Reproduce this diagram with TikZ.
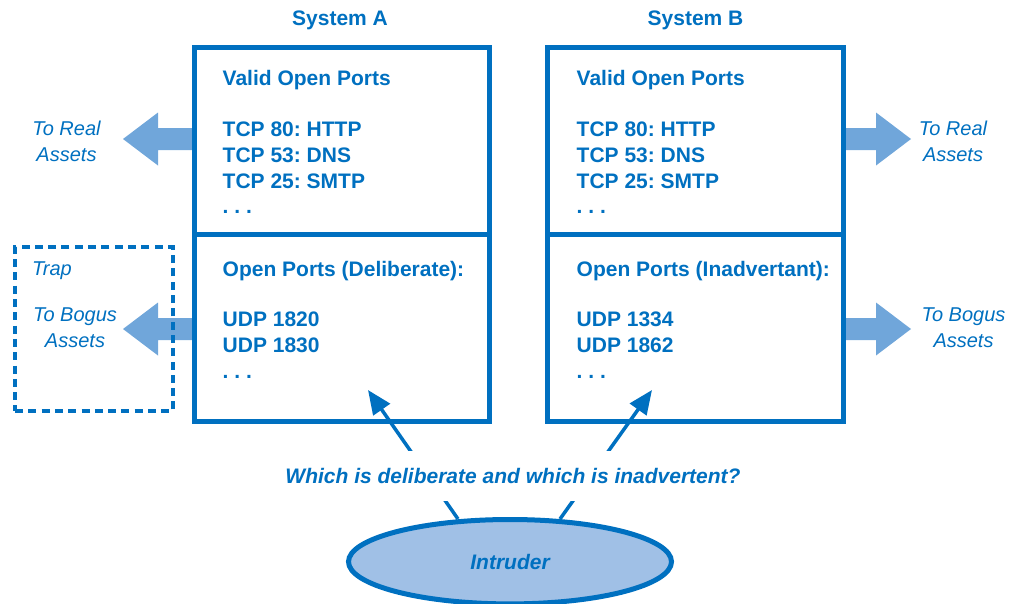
\documentclass[tikz,border=0pt]{standalone}
\usepackage{fontspec}
\setmainfont{Liberation Sans}
\usetikzlibrary{arrows.meta,shapes.geometric}
\definecolor{tblue}{RGB}{0,112,192}
\definecolor{afill}{RGB}{112,166,218}
\definecolor{efill}{RGB}{160,192,230}
\frenchspacing
\begin{document}
\begin{tikzpicture}[x=1pt,y=-1pt,
  boxpart/.style={draw=tblue,line width=5pt,inner sep=0pt},
  lbl/.style={text=tblue,font=\fontsize{21}{26}\selectfont\bfseries\frenchspacing,anchor=base west,inner sep=0pt},
  title/.style={text=tblue,font=\fontsize{21}{26}\selectfont\bfseries,anchor=base,inner sep=0pt},
  side/.style={text=tblue,font=\fontsize{20}{26.5}\selectfont\itshape,align=center,inner sep=0pt},
  blockarrow/.style={fill=afill},
  conn/.style={draw=tblue,line width=3.5pt,-{Triangle[length=24pt,width=20pt]}},
  trapbox/.style={draw=tblue,line width=4pt,dash pattern=on 8pt off 5.3pt},
  question/.style={fill=white,inner xsep=4pt,minimum height=50pt,text=tblue,font=\fontsize{21}{26}\selectfont\bfseries\itshape},
  intr/.style={ellipse,draw=tblue,line width=5pt,fill=efill,minimum width=323pt,minimum height=84.4pt,inner sep=0pt,text=tblue,font=\fontsize{21}{26}\selectfont\bfseries\itshape}]
\useasboundingbox (0,0) rectangle (1009,603);

% connectors from intruder
\coordinate (sA) at (458,519);
\coordinate (sB) at (560,519);
\coordinate (tipA) at (368,390);
\coordinate (tipB) at (652,390);
\draw[conn] (sA) -- (tipA);
\draw[conn] (sB) -- (tipB);
\node[question] (q) at (513,476) {Which is deliberate and which is inadvertent?};
\node[intr] (intruder) at (510,561.7) {Intruder};

% block arrows
\coordinate (aReal) at (194,139);
\coordinate (aBogus) at (194,329);
\coordinate (bReal) at (843,139);
\coordinate (bBogus) at (843,329);
\fill[blockarrow] (aReal) ++(0,-11) -- ++(-36,0) -- ++(0,-15.5) -- ++(-35,26.5) -- ++(35,26.5) -- ++(0,-15.5) -- ++(36,0) -- cycle;
\fill[blockarrow] (aBogus) ++(0,-11) -- ++(-36,0) -- ++(0,-15.5) -- ++(-35,26.5) -- ++(35,26.5) -- ++(0,-15.5) -- ++(36,0) -- cycle;
\fill[blockarrow] (bReal) ++(0,-11) -- ++(33,0) -- ++(0,-15.5) -- ++(35,26.5) -- ++(-35,26.5) -- ++(0,-15.5) -- ++(-33,0) -- cycle;
\fill[blockarrow] (bBogus) ++(0,-11) -- ++(33,0) -- ++(0,-15.5) -- ++(35,26.5) -- ++(-35,26.5) -- ++(0,-15.5) -- ++(-33,0) -- cycle;

% trap
\node[trapbox,minimum width=158pt,minimum height=164pt,inner sep=0pt] (trap) at (94,329) {};

% boxes
\node[boxpart,minimum width=295.5pt,minimum height=187pt] (A1) at (341.75,141) {};
\node[boxpart,minimum width=295.5pt,minimum height=186.5pt] (A2) at (341.75,327.75) {};
\node[boxpart,minimum width=296pt,minimum height=187pt] (B1) at (695.5,141) {};
\node[boxpart,minimum width=296pt,minimum height=186.5pt] (B2) at (695.5,327.75) {};

% titles
\node[title] (sysA) at (340,25) {System A};
\node[title] (sysB) at (695.5,25) {System B};

% box A text
\node[lbl] (a1) at (222.5,85) {Valid Open Ports};
\node[lbl] (a2) at (222.5,136) {TCP 80: HTTP};
\node[lbl] (a3) at (222.5,162) {TCP 53: DNS};
\node[lbl] (a4) at (222.5,188) {TCP 25: SMTP};
\node[lbl] (a5) at (222.5,213.5) {. . .};
\node[lbl] (a6) at (222.5,276) {Open Ports (Deliberate):};
\node[lbl] (a7) at (222.5,326) {UDP 1820};
\node[lbl] (a8) at (222.5,352) {UDP 1830};
\node[lbl] (a9) at (222.5,378) {. . .};

% box B text
\node[lbl] (b1) at (576.5,85) {Valid Open Ports};
\node[lbl] (b2) at (576.5,136) {TCP 80: HTTP};
\node[lbl] (b3) at (576.5,162) {TCP 53: DNS};
\node[lbl] (b4) at (576.5,188) {TCP 25: SMTP};
\node[lbl] (b5) at (576.5,213.5) {. . .};
\node[lbl] (b6) at (576.5,276) {Open Ports (Inadvertant):};
\node[lbl] (b7) at (576.5,326) {UDP 1334};
\node[lbl] (b8) at (576.5,352) {UDP 1862};
\node[lbl] (b9) at (576.5,378) {. . .};

% side labels
\node[side] (lr) at (66.5,141.1) {To Real\\Assets};
\node[side,anchor=base west] (trapl) at (32,275) {Trap};
\node[side] (lb) at (75,327.9) {To Bogus\\Assets};
\node[side] (rr) at (953,141.1) {To Real\\Assets};
\node[side] (rb) at (963.5,327.9) {To Bogus\\Assets};
\end{tikzpicture}
\end{document}
